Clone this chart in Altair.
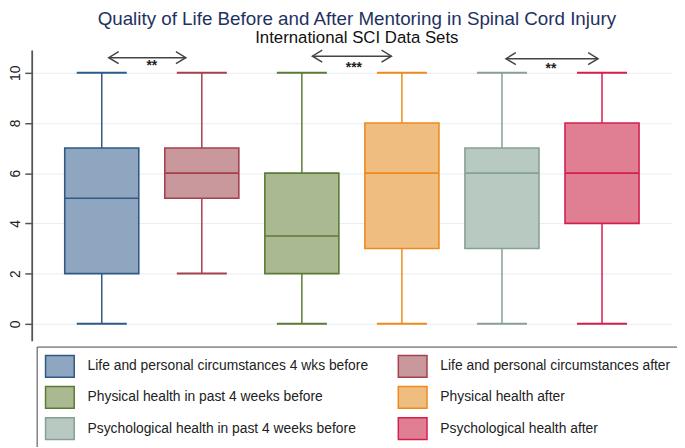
import altair as alt
import pandas as pd

categories = [
    "Life and personal circumstances 4 wks before",
    "Life and personal circumstances after",
    "Physical health in past 4 weeks before",
    "Physical health after",
    "Psychological health in past 4 weeks before",
    "Psychological health after",
]
mins = [0, 2, 0, 0, 0, 0]
q1s = [2, 5, 2, 3, 3, 4]
medians = [5, 6, 3.5, 6, 6, 6]
q3s = [7, 7, 6, 8, 7, 8]
maxs = [10, 10, 10, 10, 10, 10]

fill_colors = ["#8ea6bf", "#c9989d", "#aab992", "#f0bd80", "#b8c9c2", "#e07f94"]
stroke_colors = ["#2f5a85", "#a5414d", "#5b7b35", "#ee8a1c", "#86a095", "#d51f4b"]

arrow_start = [1.07, 3.105, 5.04]
arrow_end = [1.84, 3.895, 5.96]
arrow_y = [10.6, 10.66, 10.56]
sig_x = [1.5, 3.52, 5.49]
sig_y = [10.12, 10.02, 9.97]
sig_labels = ["**", "***", "**"]

df = pd.DataFrame({
    "series": categories,
    "pos": list(range(1, len(categories) + 1)),
    "lo": mins, "q1": q1s, "med": medians, "q3": q3s, "hi": maxs,
})
arrows = pd.DataFrame({"x1": arrow_start, "x2": arrow_end, "y": arrow_y,
                       "sx": sig_x, "sy": sig_y, "lab": sig_labels})

FONT = "Liberation Sans"
xs = alt.Scale(domain=[0.3, 6.7], nice=False, zero=False)
ys = alt.Scale(domain=[-0.67, 10.9], nice=False, zero=False)

leg = alt.Legend(
    title=None, orient="none", legendX=5, legendY=300, columns=2,
    direction="horizontal",
    symbolType="M-1.32,-1H1.32V1H-1.32Z", symbolSize=484, symbolStrokeWidth=1.5,
    symbolOpacity=1, symbolOffset=3.5,
    labelFontSize=14, labelFont=FONT, labelColor="#222", labelLimit=400,
    labelOffset=16, columnPadding=26, rowPadding=3.5, padding=8,
    strokeColor="#444", fillColor="white",
)
fill_enc = alt.Fill("series:N", scale=alt.Scale(domain=categories, range=fill_colors), legend=leg)
stroke_enc = alt.Stroke("series:N", scale=alt.Scale(domain=categories, range=stroke_colors), legend=leg)

base = alt.Chart(df).transform_calculate(
    bx1="datum.pos - 0.37", bx2="datum.pos + 0.37",
    cx1="datum.pos - 0.25", cx2="datum.pos + 0.25",
)

whisk = base.mark_rule(strokeWidth=1.5).encode(
    x=alt.X("pos:Q", scale=xs, axis=None),
    y=alt.Y("lo:Q", scale=ys, axis=alt.Axis(
        values=[0, 2, 4, 6, 8, 10], title=None, labelAngle=-90, labelAlign="center",
        labelBaseline="bottom", labelFontSize=14, labelFont=FONT, labelColor="#222",
        labelPadding=2, tickSize=7, tickWidth=1.5, tickColor="#555",
        domainColor="#555", domainWidth=1.8, grid=True, gridColor="#e6eef2",
        gridWidth=1)),
    y2="hi:Q",
    stroke=stroke_enc,
)
caps_lo = base.mark_rule(strokeWidth=2).encode(
    x=alt.X("cx1:Q", scale=xs), x2="cx2:Q", y=alt.Y("lo:Q", scale=ys), stroke=stroke_enc)
caps_hi = base.mark_rule(strokeWidth=2).encode(
    x=alt.X("cx1:Q", scale=xs), x2="cx2:Q", y=alt.Y("hi:Q", scale=ys), stroke=stroke_enc)
boxes = base.mark_bar(strokeWidth=1.6).encode(
    x=alt.X("bx1:Q", scale=xs), x2="bx2:Q",
    y=alt.Y("q1:Q", scale=ys), y2="q3:Q",
    fill=fill_enc, stroke=stroke_enc,
)
meds = base.mark_rule(strokeWidth=1.6).encode(
    x=alt.X("bx1:Q", scale=xs), x2="bx2:Q", y=alt.Y("med:Q", scale=ys), stroke=stroke_enc)

abase = alt.Chart(arrows)
arrow_lines = abase.mark_rule(color="#444", strokeWidth=1.5).encode(
    x=alt.X("x1:Q", scale=xs), x2="x2:Q", y=alt.Y("y:Q", scale=ys))
arrow_left = abase.mark_point(shape="M1,-0.6L0,0L1,0.6", size=400, filled=False,
                              color="#444", strokeWidth=1.5, opacity=1).encode(
    x=alt.X("x1:Q", scale=xs), y=alt.Y("y:Q", scale=ys))
arrow_right = abase.mark_point(shape="M-1,-0.6L0,0L-1,0.6", size=400, filled=False,
                               color="#444", strokeWidth=1.5, opacity=1).encode(
    x=alt.X("x2:Q", scale=xs), y=alt.Y("y:Q", scale=ys))
sig = abase.mark_text(fontSize=14, fontWeight="bold", font=FONT, color="#222",
                      baseline="alphabetic").encode(
    x=alt.X("sx:Q", scale=xs), y=alt.Y("sy:Q", scale=ys), text="lab:N")

chart = alt.layer(whisk, caps_lo, caps_hi, boxes, meds, arrow_lines, arrow_left,
                  arrow_right, sig).properties(
    width=648, height=294,
    title=alt.TitleParams(
        text="Quality of Life Before and After Mentoring in Spinal Cord Injury",
        subtitle="International SCI Data Sets",
        anchor="middle", dx=5, font=FONT,
        fontSize=19, fontWeight="normal", color="#1e3160",
        subtitleFont=FONT, subtitleFontSize=17,
        subtitleColor="#111", subtitlePadding=2, offset=1,
    ),
    autosize=alt.AutoSizeParams(type="none"),
    padding={"left": 24, "top": 40, "right": 5, "bottom": 105},
).configure_view(stroke=None)

chart.save("out.html", embed_options={"renderer": "svg", "actions": False})
